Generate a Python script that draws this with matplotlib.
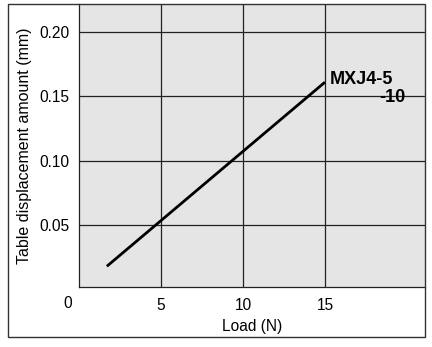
import matplotlib
matplotlib.use("Agg")
import matplotlib.pyplot as plt
from matplotlib.patches import Rectangle
from matplotlib.transforms import blended_transform_factory

plt.rcParams['font.family'] = ['Liberation Sans', 'DejaVu Sans']

load = [1.7, 15.0]
displacement = [0.018, 0.161]
xticks = [5, 10, 15]
yticks = [0.05, 0.10, 0.15, 0.20]
ytick_labels = ["0.05", "0.10", "0.15", "0.20"]
series_label_1 = "MXJ4-5"
series_label_2 = "-10"

W, H = 432, 347
fig = plt.figure(figsize=(W/100, H/100), dpi=100)

fs = 11.2
# outer frame
fig.patches.append(Rectangle((8/W, 1 - 337/H), (425-8)/W, (337-4)/H,
                             transform=fig.transFigure, fill=False,
                             edgecolor='#333333', linewidth=1.0))

ax = fig.add_axes([79/W, 1 - 287/H, (425-79)/W, (287-4)/H])
ax.set_facecolor('#e5e5e5')
ax.plot(load, displacement, color='black', linewidth=2.0, solid_capstyle='butt')
ax.set_xlim(0, 21.1)
ax.set_ylim(0.0019, 0.2217)
ax.set_xticks(xticks)
ax.set_xticklabels([str(t) for t in xticks], fontsize=fs)
ax.set_yticks(yticks)
ax.set_yticklabels(ytick_labels, fontsize=fs)
ax.tick_params(axis='y', length=0, pad=7)
ax.tick_params(axis='x', length=0, pad=8)
ax.grid(True, color='#222222', linewidth=0.9)
ax.set_axisbelow(True)
for s in ['top', 'right']:
    ax.spines[s].set_visible(False)
for s in ['left', 'bottom']:
    ax.spines[s].set_color('#222222')
    ax.spines[s].set_linewidth(0.9)

tr = blended_transform_factory(ax.transData, ax.transAxes)
ax.text(-0.67, -(303-287)/283, "0", transform=tr,
        fontsize=fs, ha='center', va='center', clip_on=False)
ax.set_xlabel("Load (N)", fontsize=fs, labelpad=4)
ax.set_ylabel("Table displacement amount (mm)", fontsize=11.5, labelpad=5)

ax.text(15.3, 0.163, series_label_1, fontsize=13, fontweight='bold', ha='left', va='center')
ax.text(19.9, 0.149, series_label_2, fontsize=13, fontweight='bold', ha='right', va='center')

fig.savefig("out.png", dpi=100)
